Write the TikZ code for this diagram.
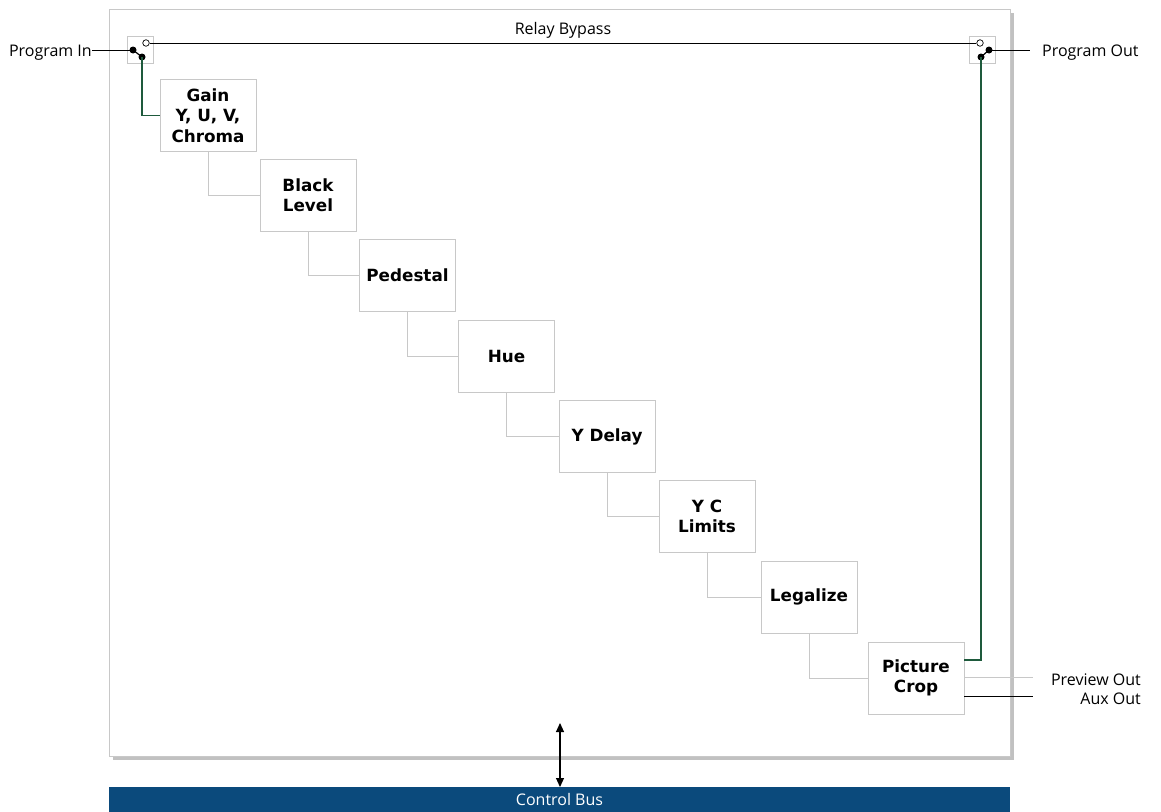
\documentclass[tikz,border=0pt]{standalone}
\usepackage{fontspec}
\setmainfont{Open Sans}
\newfontfamily\boxfont{DejaVu Sans}
\usetikzlibrary{shadows,arrows.meta}
\definecolor{busblue}{HTML}{0B4A7C}
\definecolor{wire}{HTML}{1E5A3C}
\definecolor{boxline}{HTML}{C8C8C8}
\tikzset{
  stagebox/.style={draw=boxline, fill=white, minimum width=96pt, minimum height=72pt, inner sep=0pt, align=center, font=\boxfont\bfseries\fontsize{16.8}{20.5}\selectfont},
  swbox/.style={draw=boxline, fill=white, minimum width=26pt, minimum height=27pt, inner sep=0pt},
  lbl/.style={font=\fontsize{16}{19}\selectfont, inner sep=0pt},
  link/.style={draw=boxline, line width=0.8pt},
  dot/.style={circle, fill=black, minimum size=7pt, inner sep=0pt},
  odot/.style={circle, draw=black, fill=white, minimum size=6.5pt, inner sep=0pt, line width=0.7pt},
  gwire/.style={draw=wire, line width=1.4pt},
}
\begin{document}
\begin{tikzpicture}[x=1pt,y=-1pt]
\useasboundingbox (0,0) rectangle (1161,811);
% frame
\node[draw=boxline, fill=white, minimum width=901pt, minimum height=747pt, inner sep=0pt,
  drop shadow={shadow xshift=4pt, shadow yshift=-4pt, opacity=0.35, fill=black!70}] (frame) at (559.5,382.5) {};
% control bus
\node[fill=busblue, minimum width=901pt, minimum height=25pt, inner sep=0pt, text=white, font=\fontsize{16}{19}\selectfont] (bus) at (559.5,799.5) {Control Bus};
\coordinate (arrtop) at (560,723);
\coordinate (arrbot) at (560,787);
\draw[{Triangle[length=9pt,width=8pt]}-{Triangle[length=9pt,width=8pt]}, line width=1.1pt] (arrtop) -- (arrbot);
% switches
\node[swbox] (swl) at (140,49.5) {};
\node[swbox] (swr) at (982,49.5) {};
\node[dot] (li) at (133,50) {};
\node[dot] (lo) at (142,57) {};
\node[odot] (lb) at (146,43) {};
\node[odot] (rb) at (980,43) {};
\node[dot] (ro) at (989,50) {};
\node[dot] (ri) at (981,57) {};
\draw[line width=1.2pt] (li.center) -- (lo.center);
\draw[line width=1.2pt] (ri.center) -- (ro.center);
\draw[line width=0.9pt] (lb) -- (rb) node[midway, above=4pt, lbl] (rbl) {Relay Bypass};
% labels
\node[lbl, anchor=east] (pin) at (92,52.5) {Program In};
\coordinate (pinend) at (92,50);
\draw[line width=0.9pt] (pinend) -- (li.center);
\node[lbl, anchor=west] (pout) at (1042,52.5) {Program Out};
\coordinate (poutend) at (1030,50);
\draw[line width=0.9pt] (ro.center) -- (poutend);
% stages
\node[stagebox] (s1) at (208,115.5) {Gain\\Y, U, V,\\Chroma};
\node[stagebox] (s2) at (308,195) {Black\\Level};
\node[stagebox] (s3) at (407.5,275.5) {Pedestal};
\node[stagebox] (s4) at (506.5,356) {Hue};
\node[stagebox] (s5) at (607,436.5) {Y Delay};
\node[stagebox] (s6) at (707,516.5) {Y C\\Limits};
\node[stagebox] (s7) at (809,597) {Legalize};
\node[stagebox] (s8) at (916,678) {Picture\\Crop};
\foreach \a/\b in {s1/s2,s2/s3,s3/s4,s4/s5,s5/s6,s6/s7,s7/s8}
  \draw[link] (\a.south) |- (\b.west);
% green wires
\draw[gwire] (lo.center) |- (s1.west);
\draw[gwire] (ri.center) |- ([yshift=18pt]s8.east);
% outputs
\node[lbl, anchor=east] (prev) at (1141,679.5) {Preview Out};
\node[lbl, anchor=east] (aux) at (1141,698.5) {Aux Out};
\coordinate (pe) at (1033,677);
\coordinate (ae) at (1033,696);
\draw[draw=boxline, line width=0.9pt] (s8.east |- pe) -- (pe);
\draw[line width=0.9pt] (s8.east |- ae) -- (ae);
\end{tikzpicture}
\end{document}
